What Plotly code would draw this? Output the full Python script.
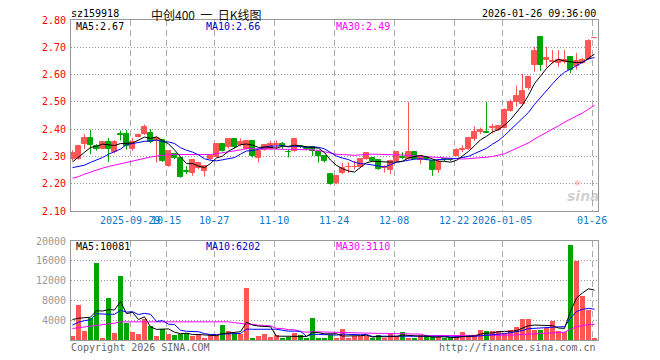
import plotly.graph_objects as go
import pandas as pd

# ---------------- data ----------------
dates = (
    ["2025-09-15", "2025-09-16", "2025-09-17", "2025-09-18", "2025-09-19", "2025-09-22",
     "2025-09-23", "2025-09-24", "2025-09-25", "2025-09-26", "2025-09-29", "2025-09-30"]
    + ["2025-10-%02d" % d for d in [9, 10, 13, 14, 15, 16, 17, 20, 21, 22, 23, 24, 27, 28, 29, 30, 31]]
    + ["2025-11-%02d" % d for d in [3, 4, 5, 6, 7, 10, 11, 12, 13, 14, 17, 18, 19, 20, 21, 24, 25, 26, 27, 28]]
    + ["2025-12-%02d" % d for d in [1, 2, 3, 4, 5, 8, 9, 10, 11, 12, 15, 16, 17, 18, 19, 22, 23, 24, 25, 26, 29, 30, 31]]
    + ["2026-01-%02d" % d for d in [5, 6, 7, 8, 9, 12, 13, 14, 15, 16, 19, 20, 21, 22, 23, 26]]
)

open_ = [2.290, 2.290, 2.345, 2.368, 2.337, 2.329, 2.352, 2.315, 2.383, 2.381,
         2.327, 2.371, 2.382, 2.386, 2.355, 2.361, 2.266, 2.309, 2.294, 2.245,
         2.241, 2.259, 2.247, 2.290, 2.299, 2.345, 2.333, 2.364, 2.342, 2.327,
         2.358, 2.296, 2.325, 2.327, 2.342, 2.345, 2.318, 2.321, 2.338, 2.331,
         2.333, 2.317, 2.302, 2.235, 2.201, 2.239, 2.261, 2.261, 2.263, 2.290,
         2.294, 2.288, 2.259, 2.251, 2.284, 2.297, 2.290, 2.315, 2.288, 2.296,
         2.284, 2.251, 2.290, 2.290, 2.302, 2.325, 2.327, 2.364, 2.390, 2.389,
         2.405, 2.397, 2.406, 2.467, 2.498, 2.492, 2.549, 2.636, 2.739, 2.652,
         2.646, 2.644, 2.646, 2.663, 2.632, 2.644, 2.657, 2.733]
high = [2.323, 2.340, 2.381, 2.398, 2.345, 2.354, 2.368, 2.360, 2.395, 2.397,
        2.368, 2.384, 2.417, 2.400, 2.368, 2.363, 2.323, 2.313, 2.296, 2.264,
        2.288, 2.280, 2.268, 2.305, 2.348, 2.348, 2.366, 2.366, 2.366, 2.360,
        2.360, 2.323, 2.345, 2.358, 2.358, 2.353, 2.327, 2.366, 2.342, 2.336,
        2.336, 2.320, 2.304, 2.237, 2.231, 2.276, 2.278, 2.284, 2.292, 2.315,
        2.296, 2.290, 2.268, 2.288, 2.317, 2.315, 2.500, 2.320, 2.304, 2.300,
        2.286, 2.290, 2.294, 2.294, 2.329, 2.341, 2.370, 2.410, 2.406, 2.500,
        2.420, 2.413, 2.476, 2.508, 2.560, 2.603, 2.596, 2.702, 2.739, 2.702,
        2.690, 2.690, 2.690, 2.666, 2.679, 2.660, 2.730, 2.737]
low = [2.284, 2.288, 2.327, 2.309, 2.321, 2.327, 2.280, 2.311, 2.358, 2.325,
       2.321, 2.369, 2.379, 2.349, 2.278, 2.280, 2.262, 2.290, 2.222, 2.235,
       2.229, 2.253, 2.226, 2.286, 2.296, 2.318, 2.329, 2.330, 2.337, 2.325,
       2.296, 2.278, 2.321, 2.325, 2.327, 2.327, 2.296, 2.317, 2.330, 2.322,
       2.302, 2.278, 2.278, 2.196, 2.198, 2.235, 2.239, 2.253, 2.259, 2.288,
       2.282, 2.251, 2.241, 2.235, 2.280, 2.290, 2.288, 2.288, 2.272, 2.286,
       2.229, 2.239, 2.282, 2.282, 2.300, 2.316, 2.324, 2.357, 2.382, 2.386,
       2.384, 2.394, 2.403, 2.464, 2.483, 2.488, 2.544, 2.610, 2.613, 2.626,
       2.640, 2.628, 2.640, 2.605, 2.618, 2.640, 2.654, 2.733]
close = [2.311, 2.337, 2.368, 2.342, 2.327, 2.352, 2.327, 2.352, 2.378, 2.337,
         2.352, 2.380, 2.407, 2.354, 2.366, 2.284, 2.321, 2.294, 2.225, 2.243,
         2.286, 2.275, 2.266, 2.300, 2.345, 2.321, 2.364, 2.333, 2.352, 2.358,
         2.300, 2.321, 2.342, 2.345, 2.344, 2.337, 2.316, 2.364, 2.335, 2.328,
         2.321, 2.302, 2.284, 2.200, 2.229, 2.259, 2.262, 2.263, 2.290, 2.311,
         2.284, 2.253, 2.263, 2.284, 2.315, 2.296, 2.315, 2.290, 2.302, 2.290,
         2.251, 2.280, 2.287, 2.286, 2.324, 2.327, 2.367, 2.390, 2.397, 2.387,
         2.407, 2.410, 2.471, 2.498, 2.520, 2.541, 2.592, 2.685, 2.634, 2.660,
         2.648, 2.652, 2.655, 2.615, 2.648, 2.655, 2.722, 2.735]
volume = [800, 7000, 1800, 4500, 15500, 470, 8400, 1470, 13000, 3350,
          1670, 1200, 4270, 2800, 800, 2130, 1200, 1000, 1200, 1330,
          800, 1200, 470, 930, 930, 3000, 1870, 1330, 1200, 10470,
          270, 800, 1200, 670, 930, 270, 670, 1470, 930, 270,
          4470, 270, 270, 1000, 270, 2200, 270, 800, 800, 800,
          270, 1000, 270, 1330, 800, 1600, 270, 270, 930, 930,
          530, 530, 270, 270, 800, 1600, 530, 1000, 2000, 1800,
          1800, 1800, 1330, 2000, 2600, 4300, 4200, 2000, 2000, 2500,
          3800, 1800, 1600, 19200, 16000, 8950, 6000, 270]

# moving-average values before enough in-window history exists
ma5_head = [2.280, 2.296, 2.315, 2.333]
ma10_head = [2.259, 2.263, 2.268, 2.278, 2.287, 2.296, 2.308, 2.317, 2.327]
ma30_head = [2.220, 2.226, 2.235, 2.243, 2.251, 2.257, 2.263, 2.268, 2.274, 2.280,
             2.285, 2.290, 2.294, 2.298, 2.301, 2.304, 2.306, 2.307, 2.307, 2.307,
             2.306, 2.306, 2.306, 2.307, 2.310, 2.313, 2.317, 2.321, 2.324]
vma5_head = [4130, 4400, 4500, 4600]
vma10_head = [3000, 3600, 3900, 4100, 5300, 5200, 5200, 5200, 6000]
vma30_head = [2330, 2470, 2600, 2800, 3000, 3130, 3250, 3400, 3670, 3670,
              3670, 3670, 3670, 3670, 3670, 3670, 3670, 3670, 3670, 3670,
              3670, 3670, 3670, 3670, 3670, 3670, 3670, 3500, 3330]

tick_idx = [10, 16, 24, 34, 44, 54, 64, 72, 87]
tick_text = ["2025-09-29", "10-15", "10-27", "11-10", "11-24", "12-08", "12-22", "2026-01-05", "01-26"]
price_ticks = [2.10, 2.20, 2.30, 2.40, 2.50, 2.60, 2.70, 2.80]
vol_ticks = [4000, 8000, 12000, 16000, 20000]

ma_labels = ["MA5:2.67", "MA10:2.66", "MA30:2.49"]
vma_labels = ["MA5:10081", "MA10:6202", "MA30:3110"]

# ---------------- derived ----------------
n = len(close)
xs = list(range(n))


def moving(vals, w, head):
    s = pd.Series(vals, dtype=float).rolling(w).mean().tolist()
    s[:len(head)] = head
    return s


ma5 = moving(close, 5, ma5_head)
ma10 = moving(close, 10, ma10_head)
ma30 = moving(close, 30, ma30_head)
vma5 = moving(volume, 5, vma5_head)
vma10 = moving(volume, 10, vma10_head)
vma30 = moving(volume, 30, vma30_head)

RED = "#FF5555"
GREEN = "#00A600"
MONO = "DejaVu Sans Mono"

# page offset of the plot div (browser body margin)
OFF = 8
W, H = 660, 360
PL, PT, PRt, PB = 71, 20, 598, 340          # plot-area box in page pixels
PW, PH = PRt - PL, PB - PT
L, T = PL - OFF, PT - OFF
R, B = W - L - PW, H - T - PH


def px(x):
    return (x - PL) / PW


def py(y):
    return (PB - y) / PH


fig = go.Figure()

for rising, col in [(True, RED), (False, GREEN)]:
    sel = [i for i in xs if (close[i] >= open_[i]) == rising]
    wx, wy = [], []
    for i in sel:
        wx += [i, i, None]
        wy += [low[i], high[i], None]
    fig.add_trace(go.Scatter(x=wx, y=wy, mode="lines", line=dict(color=col, width=1),
                             hoverinfo="skip", showlegend=False, xaxis="x", yaxis="y"))
    fig.add_trace(go.Bar(x=sel, base=[min(open_[i], close[i]) for i in sel],
                         y=[abs(close[i] - open_[i]) for i in sel],
                         width=0.68, marker=dict(color=col, line=dict(color=col, width=1)),
                         showlegend=False, xaxis="x", yaxis="y"))
    fig.add_trace(go.Bar(x=sel, y=[volume[i] for i in sel], width=0.83,
                         marker=dict(color=col, line=dict(width=0)),
                         showlegend=False, xaxis="x2", yaxis="y2"))

for vals, col in [(ma30, "#FF00FF"), (ma10, "#0000FF"), (ma5, "#000000")]:
    fig.add_trace(go.Scatter(x=xs, y=vals, mode="lines", line=dict(color=col, width=1),
                             showlegend=False, xaxis="x", yaxis="y"))
for vals, col in [(vma30, "#FF00FF"), (vma10, "#0000FF"), (vma5, "#000000")]:
    fig.add_trace(go.Scatter(x=xs, y=vals, mode="lines", line=dict(color=col, width=1),
                             showlegend=False, xaxis="x2", yaxis="y2"))

xr = [-0.25, -0.25 + PW / 6.0]
gpos = [i - 0.4 for i in tick_idx]
xcommon = dict(range=xr, showline=True, mirror=True, linecolor="#999999", linewidth=1,
               showgrid=True, gridcolor="#aaaaaa", gridwidth=1, griddash="6px,4px",
               tickvals=gpos, zeroline=False, ticks="", fixedrange=True)
ycommon = dict(showline=True, mirror=True, linecolor="#999999", linewidth=1,
               showgrid=True, gridcolor="#999999", gridwidth=1, griddash="1px,2px",
               zeroline=False, ticks="outside", ticklen=2, tickcolor="rgba(0,0,0,0)",
               fixedrange=True)

fig.update_layout(
    width=W, height=H, margin=dict(l=L, r=R, t=T, b=B, autoexpand=False),
    paper_bgcolor="white", plot_bgcolor="white", barmode="overlay", bargap=0,
    font=dict(family=MONO, size=10, color="#000"),
    xaxis=dict(xcommon, anchor="y", ticktext=tick_text, tickangle=0,
               tickfont=dict(family=MONO, size=10, color="#0A78C8")),
    xaxis2=dict(xcommon, anchor="y2", showticklabels=False),
    yaxis=dict(ycommon, domain=[py(211), 1], range=[2.10, 2.80], anchor="x",
               tickvals=price_ticks, ticktext=["%.2f" % v for v in price_ticks],
               tickfont=dict(family=MONO, size=10, color="#FF0000")),
    yaxis2=dict(ycommon, domain=[0, py(241)], range=[0, 20000], anchor="x2",
                tickvals=vol_ticks, ticktext=[str(v) for v in vol_ticks],
                tickfont=dict(family=MONO, size=10, color="#999999")),
)


def note(text, x, y, anchor="left", color="#000", size=10, family=MONO, **kw):
    fig.add_annotation(text=text, x=px(x), y=py(y), xref="paper", yref="paper",
                       xanchor=anchor, yanchor="middle", showarrow=False,
                       font=dict(family=family, size=size, color=color), **kw)


note("sz159918", 69, 13.5)
note("中创400\u00a0\u00a0一\u00a0\u00a0日K线图", 150, 14.5, size=12, family="Noto Sans CJK SC",
     color="#111", borderpad=0)
note("2026-01-26 09:36:00", 598, 13.5, anchor="right")
for lab, x, c in zip(ma_labels, [74, 204, 334], ["#000", "#0000CC", "#FF00FF"]):
    note(lab, x, 26.5, color=c)
for lab, x, c in zip(vma_labels, [74, 204, 334], ["#000", "#0000CC", "#FF00FF"]):
    note(lab, x, 246, color=c)
note("Copyright 2026 SINA.COM", 69, 347, color="#666")
note("http://finance.sina.com.cn", 598, 347, anchor="right", color="#666")
note("◉", 577, 182, anchor="center", color="rgba(240,120,120,0.45)", size=8, family="DejaVu Sans")
note("<b><i>sina</i></b>", 583, 196, anchor="center", color="rgba(150,150,150,0.45)", size=14,
     family="DejaVu Sans")

fig.write_html("out.html")
